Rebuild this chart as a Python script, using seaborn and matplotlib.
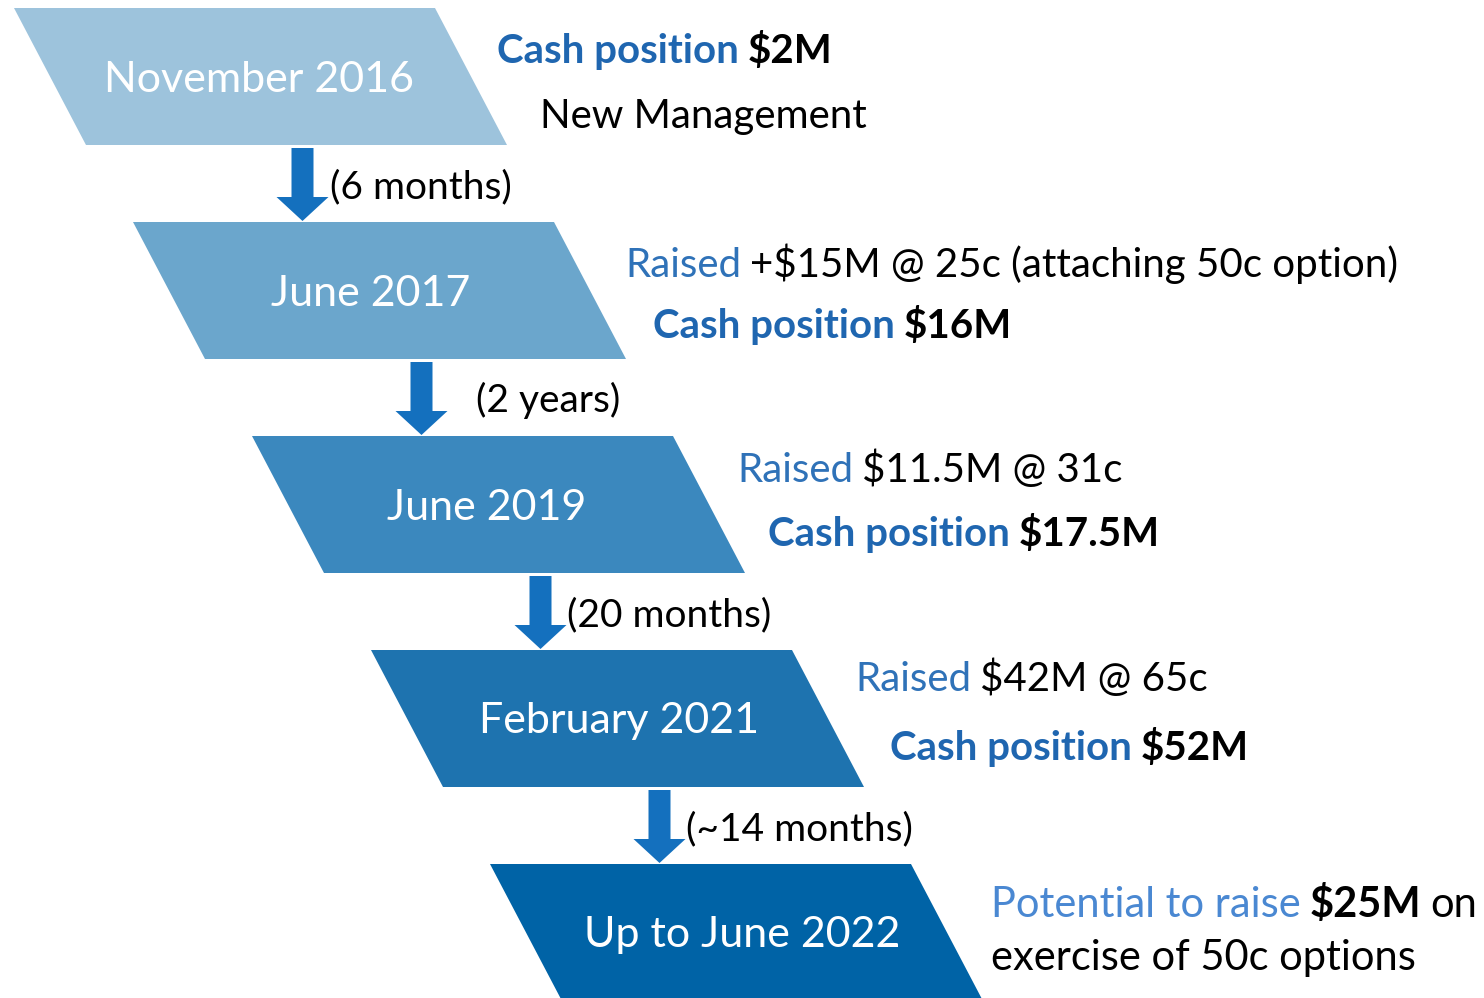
import matplotlib.pyplot as plt
import seaborn as sns
from matplotlib.patches import Polygon, FancyArrow

sns.set_theme(style="white")
plt.rcParams['font.family'] = ['Lato', 'DejaVu Sans']

# Timeline content
stages = ['November 2016', 'June 2017', 'June 2019', 'February 2021', 'Up to June 2022']
gaps = ['(6 months)', '(2 years)', '(20 months)', '(~14 months)']
box_colors = ['#9DC3DC', '#6BA6CC', '#3B88BE', '#1E73AF', '#0063A6']

BLUE_B = '#1F66B0'   # bold "Cash position"
BLUE_N = '#2F72B8'   # "Raised"
BLUE_L = '#4A88D2'   # "Potential to raise"
# each note line: list of (text, colour, bold)
notes = [
    [[('Cash position', BLUE_B, True), ('$2M', 'black', True)],
     [('New Management', 'black', False)]],
    [[('Raised', BLUE_N, False), ('+$15M @ 25c (attaching 50c option)', 'black', False)],
     [('Cash position', BLUE_B, True), ('$16M', 'black', True)]],
    [[('Raised', BLUE_N, False), ('$11.5M @ 31c', 'black', False)],
     [('Cash position', BLUE_B, True), ('$17.5M', 'black', True)]],
    [[('Raised', BLUE_N, False), ('$42M @ 65c', 'black', False)],
     [('Cash position', BLUE_B, True), ('$52M', 'black', True)]],
    [[('Potential to raise', BLUE_L, False), ('$25M', 'black', True), ('on', 'black', False)],
     [('exercise of 50c options', 'black', False)]],
]

# layout (pixel space)
W, H = 1484, 998
step_x, step_y = 119, 214
box_w, box_h, slant = 421, 137, 72
x0, y0 = 14, 8
label_cx = [259, 371, 487, 619, 742]
note_x = [(497, 540), (625, 653), (737, 768), (855, 890), (991, 991)]
note_base = [(63, 128), (277, 338), (482, 546), (691, 760), (917, 970)]
note_fs = [29, 29, 29, 29, 30]
gap_x = [330, 476, 567, 686]
FS = 29

fig = plt.figure(figsize=(W / 100, H / 100), dpi=100)
ax = fig.add_axes([0, 0, 1, 1])
ax.set_xlim(0, W)
ax.set_ylim(H, 0)
ax.axis('off')
renderer = fig.canvas.get_renderer()

for i, (label, col) in enumerate(zip(stages, box_colors)):
    tl = x0 + step_x * i
    top = y0 + step_y * i
    bot = top + box_h
    poly = Polygon([(tl, top), (tl + box_w, top), (tl + box_w + slant, bot), (tl + slant, bot)],
                   closed=True, facecolor=col, edgecolor='none')
    ax.add_patch(poly)
    ax.text(label_cx[i], top + box_h / 2 + 15, label, color='white', fontsize=FS + 2,
            ha='center', va='baseline')

    # notes beside the box
    fs = note_fs[i]
    for (lx, base, segs) in zip(note_x[i], note_base[i], notes[i]):
        x = lx
        for txt, c, bold in segs:
            t = ax.text(x, base, txt, color=c, fontsize=fs,
                        fontweight='bold' if bold else 'normal', va='baseline', ha='left')
            bb = t.get_window_extent(renderer)
            x = bb.x1 + fs * 0.3

    # arrow to next stage
    if i < len(gaps):
        ax_x = tl + slant + box_w / 2 + 6
        start = bot + 3
        end = y0 + step_y * (i + 1) - 1
        arr = FancyArrow(ax_x, start, 0, end - start, width=22, head_width=52,
                         head_length=24, length_includes_head=True,
                         facecolor='#1470BE', edgecolor='none')
        ax.add_patch(arr)
        ax.text(gap_x[i], bot + 53, gaps[i], color='black', fontsize=FS - 1,
                va='baseline', ha='left')

fig.savefig('out.png', dpi=100, facecolor='white')
